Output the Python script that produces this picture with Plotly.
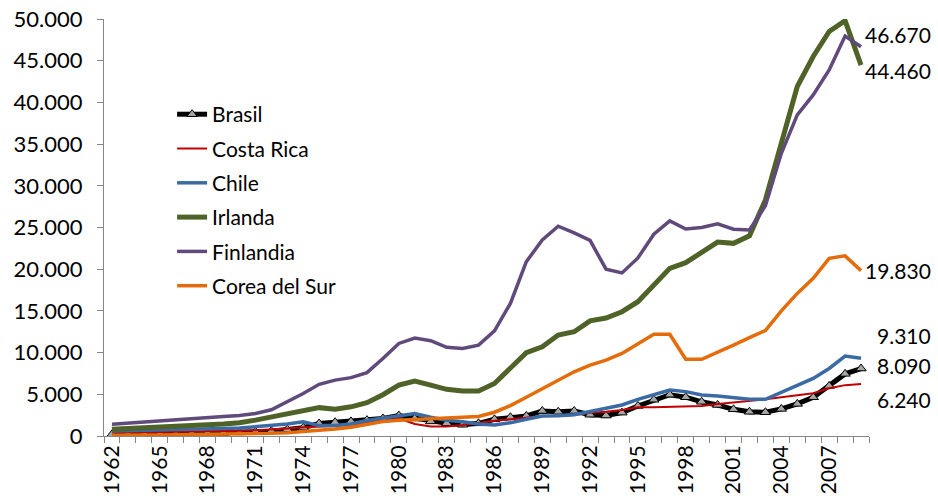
import plotly.graph_objects as go

years = list(range(1962, 2010))

brasil = [200, 250, 240, 250, 300, 320, 340, 370, 430, 500, 580, 780, 1000, 1500, 1650, 1750,
          1900, 2100, 2450, 2100, 1750, 1520, 1350, 1520, 2000, 2250, 2400, 3000, 2900, 3000,
          2550, 2450, 2800, 3600, 4350, 4950, 4650, 4100, 3720, 3200, 2900, 2850, 3250, 3850,
          4650, 6000, 7450, 8090]
costa_rica = [400, 420, 440, 460, 480, 500, 530, 570, 620, 680, 760, 900, 1050, 1100, 1200, 1350,
              1550, 1800, 2100, 1450, 1150, 1150, 1320, 1600, 1840, 2000, 2240, 2400, 2400, 2520,
              2800, 2910, 3120, 3440, 3440, 3520, 3520, 3600, 3840, 4000, 4240, 4400, 4640, 4920,
              5120, 5720, 6100, 6240]
chile = [600, 630, 660, 700, 750, 800, 850, 900, 950, 1100, 1250, 1450, 1700, 1250, 1250, 1450,
         1850, 2150, 2400, 2700, 2250, 1880, 1720, 1450, 1330, 1600, 2000, 2400, 2420, 2550,
         2930, 3320, 3720, 4400, 4920, 5500, 5320, 4920, 4800, 4640, 4400, 4400, 5200, 6100,
         6900, 8100, 9590, 9310]
irlanda = [800, 870, 950, 1050, 1100, 1200, 1350, 1450, 1600, 1900, 2300, 2750, 3000, 3400, 3200,
           3500, 4000, 4950, 6100, 6600, 6100, 5600, 5400, 5400, 6300, 8200, 10000, 10700, 12100,
           12500, 13800, 14150, 14900, 16100, 18100, 20100, 20780, 22000, 23250, 23100, 24000,
           28300, 35100, 41900, 45500, 48500, 49800, 44460]
finlandia = [1400, 1550, 1700, 1840, 1950, 2050, 2240, 2350, 2450, 2700, 3150, 4100, 5100, 6200,
             6700, 7000, 7600, 9300, 11100, 11750, 11430, 10630, 10500, 10900, 12600, 15900,
             20900, 23500, 25150, 24350, 23450, 20000, 19550, 21350, 24200, 25800, 24820, 25000,
             25450, 24800, 24700, 27600, 33900, 38500, 40900, 43900, 47960, 46670]
corea = [100, 140, 120, 110, 130, 160, 200, 250, 280, 300, 320, 400, 560, 620, 830, 1050, 1400,
         1750, 1900, 2000, 2000, 2120, 2200, 2350, 2850, 3650, 4650, 5700, 6700, 7700, 8500,
         9100, 9900, 11050, 12200, 12200, 9200, 9200, 10000, 10900, 11800, 12650, 15000, 17100,
         18900, 21300, 21600, 19830]

tick_years = list(range(1962, 2010, 3))
y_ticks = list(range(0, 50001, 5000))

FONT = "Lato"
fig = go.Figure()

series = [
    ("Brasil", brasil, "#000000", 5),
    ("Costa Rica", costa_rica, "#C00000", 2),
    ("Chile", chile, "#3A6BA5", 3.5),
    ("Irlanda", irlanda, "#4F6228", 5),
    ("Finlandia", finlandia, "#604A7B", 3.5),
    ("Corea del Sur", corea, "#E46C0A", 3.5),
]

for name, vals, color, w in series:
    if name == "Brasil":
        fig.add_trace(go.Scatter(
            x=years, y=vals, name=name, mode="lines+markers", legendgroup=name,
            line=dict(color=color, width=w),
            marker=dict(symbol="triangle-up", size=9, color="#A6A6A6",
                        line=dict(color="#000000", width=1))))
    else:
        fig.add_trace(go.Scatter(
            x=years, y=vals, name=name, mode="lines", legendgroup=name,
            line=dict(color=color, width=w)))

def fmt(v):
    return f"{v:,}".replace(",", ".")

label_shifts = [("Finlandia", finlandia, 12), ("Irlanda", irlanda, -5), ("Corea del Sur", corea, 0),
                ("Chile", chile, 23), ("Brasil", brasil, 3), ("Costa Rica", costa_rica, -16)]
for name, vals, ys in label_shifts:
    fig.add_annotation(x=1.0837, xref="paper", y=vals[-1], yref="y", yshift=ys,
                       text=fmt(vals[-1]), showarrow=False, xanchor="right",
                       font=dict(family=FONT, size=21, color="#000000"))

fig.update_layout(
    width=938, height=502,
    margin=dict(l=104, r=69, t=19, b=66, autoexpand=False),
    paper_bgcolor="white", plot_bgcolor="white",
    separators=",.",
    font=dict(family=FONT, size=21, color="#000000"),
    showlegend=True,
    legend=dict(x=0.089, y=0.82, xanchor="left", yanchor="top",
                bgcolor="rgba(0,0,0,0)", font=dict(family=FONT, size=21),
                tracegroupgap=4, itemwidth=30),
    xaxis=dict(range=[1961.5, 2009.5], tickmode="array", tickvals=tick_years,
               ticktext=[str(t) for t in tick_years], tickangle=-90, automargin=False,
               showgrid=False, zeroline=False, showline=True, linecolor="#868686",
               linewidth=1, ticks="",
               minor=dict(tickmode="linear", tick0=1961.5, dtick=1, ticks="outside",
                          ticklen=6, tickcolor="#868686", showgrid=False),
               tickfont=dict(family=FONT, size=21, color="#000000")),
    yaxis=dict(range=[0, 50000], tickmode="array", tickvals=y_ticks, tickformat=",d",
               automargin=False, ticklabelstandoff=10,
               showgrid=False, zeroline=False, showline=True, linecolor="#868686",
               linewidth=1, ticks="outside", ticklen=6, tickcolor="#868686",
               tickfont=dict(family=FONT, size=22, color="#000000")),
)

fig.write_html("out.html", post_script="document.body.style.margin='0';",
               config={"displayModeBar": False})
